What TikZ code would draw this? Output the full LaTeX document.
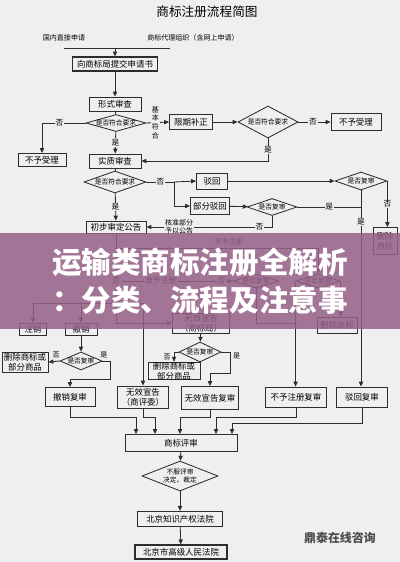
\documentclass[tikz,border=0pt]{standalone}
\usepackage{fontspec}
\setmainfont{Noto Sans CJK SC}
\usetikzlibrary{shapes.geometric,arrows.meta}

\definecolor{bgc}{RGB}{238,239,241}
\definecolor{linec}{RGB}{45,45,45}
\definecolor{bandc}{RGB}{150,96,134}

\tikzset{
  flowbox/.style 2 args={draw=linec, fill=bgc, line width=.6pt, inner sep=0pt,
    minimum width=#1*0.025cm, minimum height=#2*0.025cm, align=center,
    font=\fontsize{6}{7}\selectfont},
  choice/.style n args={3}{diamond, draw=linec, fill=bgc, line width=.6pt, inner sep=0pt,
    minimum width=#1*0.025cm, minimum height=#2*0.025cm,
    label={[dtext]center:#3}},
  dtext/.style={font=\fontsize{4.8}{5.8}\selectfont, align=center, inner sep=0pt},
  lbl/.style={font=\fontsize{5.5}{6}\selectfont, fill=bgc, inner sep=.6pt},
  note/.style={font=\fontsize{5}{6}\selectfont, inner sep=0pt, align=center},
  arr/.style={draw=linec, line width=.6pt, -{Triangle[length=3.5pt,width=3pt]}},
  ln/.style={draw=linec, line width=.6pt},
  headline/.style={font=\fontsize{21}{24}\selectfont\bfseries, text=white, inner sep=0pt},
}

\begin{document}
\begin{tikzpicture}[x=0.025cm, y=-0.025cm]
	\useasboundingbox (0,0) rectangle (400,562);
	\fill[bgc] (0,0) rectangle (400,562);
	% title
	\node[font=\fontsize{9}{10}\selectfont] (title) at (207,12) {商标注册流程简图};
	% applicants
	\node[note] (direct) at (64,38) {国内直接申请};
	\node[note] (agent) at (193,38) {商标代理组织（含网上申请）};
	\coordinate (barL) at (64,48);
	\coordinate (barM) at (115,48);
	\coordinate (barR) at (170,48);

	% formal examination
	\node[flowbox={85}{14}, line width=.8pt] (submit) at (115,64) {向商标局提交申请书};
	\node[flowbox={52}{14}] (formal) at (115,104) {形式审查};
	\node[choice={60}{17}{是否符合要求}] (chk1) at (116,123) {};
	\node[flowbox={48}{13}] (noacc1) at (42,160) {不予受理};
	\node[flowbox={43}{15}] (amend) at (191,122) {限期补正};
	\node[choice={60}{32}{是否符合要求}] (chk2) at (268,122) {};
	\node[flowbox={50}{17}] (noacc2) at (356,122) {不予受理};

	% substantive examination
	\node[flowbox={52}{14}] (subst) at (115,161) {实质审查};
	\node[choice={62}{22}{是否符合要求}] (chk3) at (115,182) {};
	\node[flowbox={31}{16}] (refuse) at (212,181) {驳回};
	\node[flowbox={39}{17}] (partref) at (210,206) {部分驳回};
	\node[choice={52}{18}{是否复审}] (rev1) at (361,181) {};
	\node[choice={50}{17}{是否复审}] (rev2) at (272,207) {};
	\node[flowbox={24}{27}] (del1) at (385,241) {删除\\商标};
	\node[flowbox={60}{12}] (prelim) at (116,227) {初步审定公告};

	% opposition, cancellation
	\node[choice={46}{14}{是否复审}] (revA) at (256,281) {};
	\node[choice={44}{14}{是否复审}] (revB) at (318,281) {};
	\node[flowbox={40}{16}] (del2) at (337,325) {删除商标};
	\node[flowbox={57}{20}] (inv1) at (201,323) {无效宣告\\（商标局）};
	\node[flowbox={27}{12}] (cancel) at (33,329) {注销};
	\node[flowbox={32}{12}] (revoke) at (81,329) {撤销};
	\node[choice={42}{18}{是否复审}] (chk4) at (81,361) {};
	\node[flowbox={46}{20}] (del3) at (25,362) {删除商标或\\部分商品};
	\node[choice={42}{20}{是否复审}] (chk5) at (200,352) {};
	\node[flowbox={52}{17}] (del4) at (174,371) {删除商标或\\部分商品};

	% review
	\node[flowbox={50}{19}] (revrev) at (70,397) {撤销复审};
	\node[flowbox={51}{22}] (inv2) at (143,397) {无效宣告\\（商评委）};
	\node[flowbox={57}{23}] (invrev) at (210,398) {无效宣告复审};
	\node[flowbox={61}{20}] (regrev) at (296,397) {不予注册复审};
	\node[flowbox={51}{20}] (refrev) at (362,397) {驳回复审};
	\node[flowbox={112}{17}] (board) at (181,443) {商标评审};
	\node[choice={76}{30}{不服评审\\决定、裁定}] (appeal) at (180,476) {};
	\node[flowbox={85}{15}, line width=.9pt] (court1) at (180,519) {北京知识产权法院};
	\node[flowbox={92}{14}, line width=.8pt] (court2) at (181,552) {北京市高级人民法院};

	% -
	\draw[ln] (barL) -- (barR);
	\draw[arr] (barM) -- (submit.north);
	\draw[arr] (submit) -- (formal);
	\draw[ln] (formal) -- (chk1);
	\draw[arr] (chk1.west) -| node[lbl, pos=.3]{否} (noacc1.north);
	\draw[arr] (chk1.east) -- node[lbl, pos=.4, font=\fontsize{5}{6.2}\selectfont, align=center]{基\\本\\符\\合} (amend.west);
	\draw[arr] (amend) -- (chk2);
	\draw[arr] (chk2) -- node[lbl, pos=.45]{否} (noacc2);
	\draw[arr] (chk2.south) |- node[lbl, pos=.26]{是} (subst.east);
	\draw[arr] (chk1) -- node[lbl]{是} (subst);
	\draw[ln] (subst) -- (chk3);
	\coordinate (split) at (174,182);
	\draw[ln] (chk3.east) -- node[lbl]{否} (split);
	\draw[arr] (split) -- (refuse.west);
	\draw[arr] (split) |- (partref.west);
	\draw[arr] (refuse) -- (rev1);
	\draw[arr] (rev1.east) -- node[lbl]{否} (rev1.east |- del1.north);
	\draw[arr] (rev1.south) -- node[lbl, pos=.16]{是} (rev1.south |- refrev.north);
	\draw[arr] (partref) -- (rev2);
	\draw[ln] (rev2.east) -- node[lbl]{是} (rev2.east -| rev1.south);
	\draw[arr] (rev2.south) |- node[lbl, pos=.55]{否}
		node[lbl, pos=.87, font=\fontsize{5}{5.6}\selectfont, align=center]{核准部分\\予以公告} (prelim.east);
	\draw[arr] (chk3) -- node[lbl]{是} (prelim);

	% under the banner
	\coordinate (j1) at (115,248);
	\coordinate (j2) at (122,281);
	\coordinate (j3) at (297,323);
	\draw[arr] (prelim.south) |- node[lbl, pos=.267]{否} (inv1.west);
	\draw[arr] (j1) -| node[note, above=2pt, pos=.28]{不予注册} (revB.north);
	\draw[arr] (j2) -- node[lbl, pos=.35]{准予注册} node[lbl, pos=.9]{否} (revA.west);
	\draw[ln] (revA.south) |- (j3);
	\draw[arr] (revB.west) -- (revB.west |- regrev.north);
	\draw[arr] (revB.east) -- (revB.east |- del2.north);
	\coordinate (barC) at (33,303);
	\coordinate (barI) at (143,303);
	\draw[ln] (barC) -- (barI);
	\draw[arr] (barC) -- (cancel.north);
	\draw[arr] (revoke.north |- barC) -- (revoke.north);
	\draw[arr] (barI) -- (inv2.north);

	% lower part
	\draw[arr] (revoke) -- (chk4);
	\draw[arr] (chk4.west) -- node[note, above=2pt, pos=.3]{否} (del3.east);
	\coordinate (k1) at (110,379);
	\draw[arr] (chk4.east) -| node[note, above=2pt, pos=.1]{是} (k1) -| (revrev.north);
	\draw[arr] (inv1) -- (chk5);
	\draw[arr] (chk5.west) -| node[note, left=2pt, pos=.75]{否} (del4.north);
	\coordinate (k2) at (230,373);
	\draw[arr] (chk5.east) -| node[note, right=2pt, pos=.6]{是} (k2) -| (invrev.north);

	% into the board
	\coordinate (m1) at (136,417);
	\coordinate (m2) at (155,417);
	\coordinate (m3) at (180,417);
	\coordinate (m4) at (216,417);
	\coordinate (m5) at (232,423);
	\draw[arr] (revrev.south) |- (m1) -- (m1 |- board.north);
	\draw[arr] (inv2.south) |- (m2) -- (m2 |- board.north);
	\draw[arr] (invrev.south) |- (m3) -- (m3 |- board.north);
	\draw[arr] (regrev.south) |- (m4) -- (m4 |- board.north);
	\draw[arr] (refrev.south) |- (m5) -- (m5 |- board.north);
	\draw[arr] (board) -- (appeal);
	\draw[arr] (appeal) -- (court1);
	\draw[arr] (court1) -- (court2);

	% watermark
	\node[font=\fontsize{8.5}{9}\selectfont\bfseries, text=black!70] (mark) at (340,538) {鼎泰在线咨询};

	% banner
	\fill[bandc, opacity=.86] (0,233) rectangle (400,329);
	\node[headline] (head1) at (200,262) {运输类商标注册全解析};
	\node[headline] (head2) at (200,300) {：分类、流程及注意事};
\end{tikzpicture}
\end{document}
